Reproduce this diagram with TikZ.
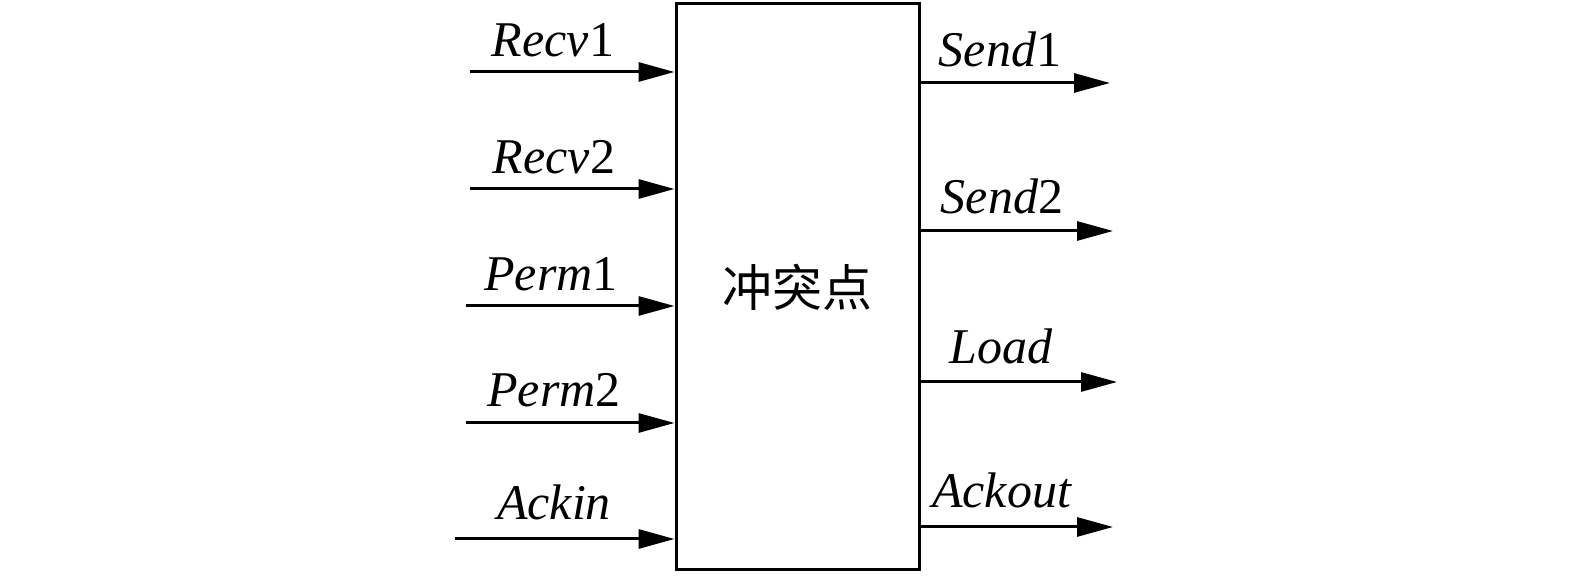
\documentclass[tikz,border=0pt]{standalone}
\usepackage{fontspec}
\setmainfont{Liberation Serif}
\newfontfamily\cjk{Noto Sans CJK SC}
\usetikzlibrary{arrows.meta}
\begin{document}
\begin{tikzpicture}[x=1pt,y=1pt,
  arr/.style={line width=3pt,-{Triangle[length=36pt,width=19pt]}},
  lab/.style={anchor=base,inner sep=0pt,font=\fontsize{50}{58}\selectfont},
  blk/.style={draw,line width=3pt,minimum width=243pt,minimum height=566pt,inner sep=0pt,font=\cjk\fontsize{50}{58}\selectfont}]
\useasboundingbox (0,0) rectangle (1575,577);
\node[blk] (box) at (797.5,290) {冲突点};
% inputs
\coordinate (i1) at (470,505);
\coordinate (i2) at (470,388);
\coordinate (i3) at (466,271);
\coordinate (i4) at (466,154);
\coordinate (i5) at (455,38);
\foreach \c in {i1,i2,i3,i4,i5} \draw[arr] (\c) -- (\c -| box.west);
\node[lab] (l1) at (553,520) {\textit{Recv}1};
\node[lab] (l2) at (554,403) {\textit{Recv}2};
\node[lab] (l3) at (551,286) {\textit{Perm}1};
\node[lab] (l4) at (554,170) {\textit{Perm}2};
\node[lab] (l5) at (554,57) {\textit{Ackin}};
% outputs
\coordinate (o1) at (1110,494);
\coordinate (o2) at (1113,346);
\coordinate (o3) at (1117,195);
\coordinate (o4) at (1113,50);
\foreach \c in {o1,o2,o3,o4} \draw[arr] (\c -| box.east) -- (\c);
\node[lab] (m1) at (1000,510) {\textit{Send}1};
\node[lab] (m2) at (1002,363) {\textit{Send}2};
\node[lab] (m3) at (1001,213) {\textit{Load}};
\node[lab] (m4) at (1002,69) {\textit{Ackout}};
\end{tikzpicture}
\end{document}
